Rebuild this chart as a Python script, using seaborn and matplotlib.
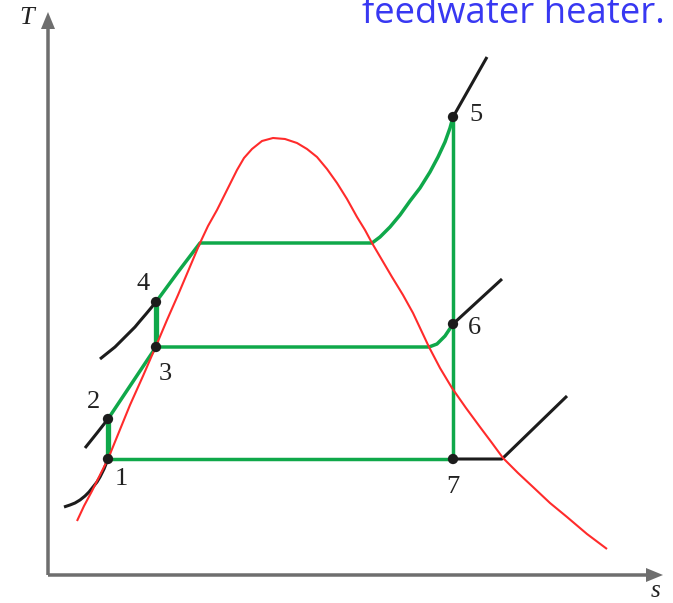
import matplotlib
matplotlib.use("Agg")
import matplotlib.pyplot as plt
import seaborn as sns
import pandas as pd
from matplotlib.patches import FancyArrow

# T-s diagram of a regenerative Rankine cycle with one open feedwater heater.
# Coordinates: entropy s (horizontal) and temperature T (vertical), arbitrary units.

# Saturation dome
dome_s = [29, 36, 44, 52, 60, 71, 82, 95, 108, 119, 130, 141, 152, 160, 169, 179,
          189, 196, 204, 214, 225, 237, 249, 259, 269, 279, 289, 299, 309, 317,
          324, 334, 344, 355, 365, 373, 381, 392, 404, 418, 432, 444, 455, 470,
          485, 502, 519, 539, 559]
dome_T = [54, 69, 84, 100, 116, 143, 170, 199, 229, 255, 280, 306, 332, 349, 365, 385,
          405, 417, 426, 434, 437, 436, 432, 426, 418, 406, 392, 376, 358, 345,
          332, 315, 298, 280, 262, 245, 228, 207, 187, 167, 148, 132, 117, 102,
          88, 72, 58, 41, 26]

# State points of the cycle
state_labels = ["1", "2", "3", "4", "5", "6", "7"]
state_s = [60, 60, 108, 108, 405, 405, 405]
state_T = [116, 156, 228, 273, 458, 251, 116]

# Cycle processes
heat_s = [108, 130, 152, 324, 332, 342, 352, 362, 372, 382, 390, 397, 402, 405]  # 4 -> 5
heat_T = [273, 303, 332, 332, 338, 348, 360, 374, 387, 403, 418, 433, 447, 458]
bleed_s = [405, 397, 389, 381, 108]                                               # 6 -> 3
bleed_T = [251, 239, 231, 228, 228]
feed_s = [60, 108]                                                                # 2 -> 3
feed_T = [156, 228]
turbine_s = [405, 405]                                                            # 5 -> 7
turbine_T = [458, 116]
condense_s = [405, 60]                                                            # 7 -> 1
condense_T = [116, 116]
pump1_s, pump1_T = [60, 60], [116, 156]                                           # 1 -> 2
pump2_s, pump2_T = [108, 108], [228, 273]                                         # 3 -> 4

# Constant-pressure lines extending beyond the cycle
iso1_s = [16, 22, 27, 32, 37, 41, 45, 49, 52, 56, 60]
iso1_T = [68, 70, 72, 75, 79, 83, 88, 93, 98, 106, 116]
iso2_s = [37, 49, 60]
iso2_T = [127, 142, 156]
iso4_s = [52, 57, 62, 67, 72, 77, 82, 87, 92, 98, 103, 108]
iso4_T = [216, 220, 224, 228, 233, 238, 243, 248, 254, 261, 267, 273]
iso5_s = [405, 439]
iso5_T = [458, 518]
iso6_s = [405, 454]
iso6_T = [251, 296]
iso7_s = [405, 454, 519]
iso7_T = [116, 116, 179]

# Positions of the state numbers
label_s = [73, 46, 117, 95, 428, 426, 405]
label_T = [96, 173, 201, 291, 460, 247, 88]

RED = "#ff2b2b"
GREEN = "#0fa84a"
BLACK = "#1c1c1c"
GRAY = "#6e6e6e"

sns.set_theme(style="white")
plt.rcParams["font.family"] = ["DejaVu Sans"]

fig = plt.figure(figsize=(6.73, 6.03), dpi=100)
ax = fig.add_axes([0, 0, 1, 1])
ax.set_xlim(-48, 625)
ax.set_ylim(-28, 575)
ax.axis("off")


def curve(s, T, color, lw, z=2):
    df = pd.DataFrame({"s": s, "T": T})
    sns.lineplot(data=df, x="s", y="T", sort=False, estimator=None, color=color,
                 linewidth=lw, ax=ax, zorder=z, solid_capstyle="butt",
                 solid_joinstyle="round")


# isobars (black)
for s, T in [(iso1_s, iso1_T), (iso2_s, iso2_T), (iso4_s, iso4_T),
             (iso5_s, iso5_T), (iso6_s, iso6_T), (iso7_s, iso7_T)]:
    curve(s, T, BLACK, 2.2, 2)

# cycle (green)
for s, T in [(heat_s, heat_T), (bleed_s, bleed_T), (feed_s, feed_T),
             (turbine_s, turbine_T), (condense_s, condense_T)]:
    curve(s, T, GREEN, 2.5, 3)
for s, T in [(pump1_s, pump1_T), (pump2_s, pump2_T)]:
    curve(s, T, GREEN, 3.8, 3)

# saturation dome (red)
curve(dome_s, dome_T, RED, 1.5, 4)

# state points
pts = pd.DataFrame({"s": state_s, "T": state_T})
sns.scatterplot(data=pts, x="s", y="T", color=BLACK, s=55, edgecolor="none",
                ax=ax, zorder=5)
for lab, x, y in zip(state_labels, label_s, label_T):
    ax.text(x, y, lab, ha="center", va="center", fontsize=19,
            family="Liberation Serif", color="#222222", zorder=6)

# axes with arrowheads
ax.add_patch(FancyArrow(0, 0, 0, 563, width=3.5, head_width=14, head_length=17,
                        length_includes_head=True, color=GRAY, lw=0, zorder=1))
ax.add_patch(FancyArrow(0, 0, 615, 0, width=3.5, head_width=14, head_length=17,
                        length_includes_head=True, color=GRAY, lw=0, zorder=1))
ax.text(-21, 557, "T", ha="center", va="center", fontsize=19, style="italic",
        family="Liberation Serif", color="#222222")
ax.text(608, -16, "s", ha="center", va="center", fontsize=18, style="italic",
        family="Liberation Serif", color="#222222")

ax.text(617, 552, "feedwater heater.", ha="right", va="baseline", fontsize=26.3,
        family="Open Sans", color="#3838f2")

ax.set_xlabel("")
ax.set_ylabel("")
fig.savefig("out.png", dpi=100)
